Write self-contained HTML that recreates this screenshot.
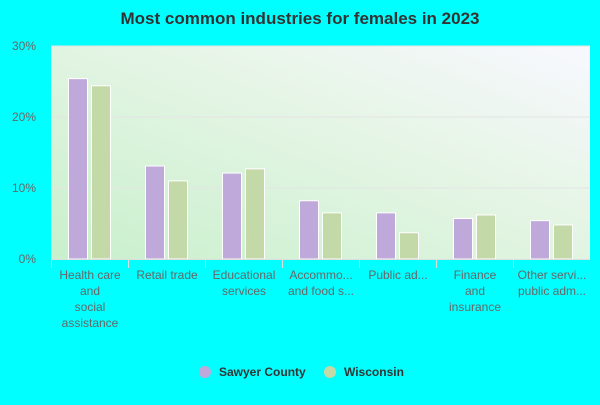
<!DOCTYPE html>
<html><head><meta charset="utf-8"><style>
body{margin:0;width:600px;height:400px;background:#00ffff;font-family:"Liberation Sans",sans-serif;overflow:hidden}
</style></head><body>
<svg width="600" height="400" xmlns="http://www.w3.org/2000/svg">
<defs>
<linearGradient id="bg" x1="0" y1="1" x2="1" y2="0">
<stop offset="0" stop-color="#c8f0cc"/><stop offset="0.6" stop-color="#e6f5e6"/><stop offset="1" stop-color="#f8f8ff"/>
</linearGradient>
</defs>
<text x="300" y="24" text-anchor="middle" font-size="17" font-weight="bold" fill="#333">Most common industries for females in 2023</text>
<rect x="51" y="46" width="539" height="213" fill="url(#bg)"/>
<g id="grid"></g><g id="bars"></g><g id="axis"></g>
<g>
<circle cx="205" cy="372" r="6" fill="#bfa8da"/>
<text x="219" y="376" font-size="12" font-weight="bold" fill="#333">Sawyer County</text>
<circle cx="330" cy="372" r="6" fill="#c4d9a8"/>
<text x="344" y="376" font-size="12" font-weight="bold" fill="#333">Wisconsin</text>
</g>
</svg>
<script>
const categories=[["Health care","and","social","assistance"],["Retail trade"],["Educational","services"],["Accommo...","and food s..."],["Public ad..."],["Finance","and","insurance"],["Other servi...","public adm..."]];
const sawyer=[25.4,13.1,12.1,8.2,6.5,5.7,5.4];
const wisconsin=[24.4,11.0,12.7,6.5,3.7,6.2,4.8];
const ticks=[0,10,20,30];
const NS="http://www.w3.org/2000/svg";
const x0=51,cw=77,yb=259,ppu=213/30;
const y=v=>yb-v*ppu;
function mk(t,a,p){const e=document.createElementNS(NS,t);for(const k in a)e.setAttribute(k,a[k]);p.appendChild(e);return e;}
const grid=document.getElementById('grid'),bars=document.getElementById('bars'),axis=document.getElementById('axis');
ticks.forEach(t=>{
 if(t>0){const l=mk('line',{x1:x0,x2:590,y1:y(t),y2:y(t),stroke:'#e4e4e4','stroke-width':1},grid);
 
 }
 const tx=mk('text',{x:36,y:y(t)+4,'text-anchor':'end','font-size':12,fill:'#666'},axis);tx.textContent=t+'%';
 
 
});
categories.forEach((c,i)=>{
 const cx=x0+i*cw;
 const b1=mk('rect',{x:cx+17.5,y:y(sawyer[i]),width:19,height:sawyer[i]*ppu,fill:'#bfa8da',stroke:'#fff','stroke-width':1},bars);
 
 
 const b2=mk('rect',{x:cx+40.5,y:y(wisconsin[i]),width:19,height:wisconsin[i]*ppu,fill:'#c4d9a8',stroke:'#fff','stroke-width':1},bars);
 
 
 const tk=mk('line',{x1:cx+0.5,x2:cx+0.5,y1:259,y2:268,stroke:'#ddd','stroke-width':1},axis);
 
 
 c.forEach((s,j)=>{const t=mk('text',{x:cx+cw/2+0.5,y:279+j*16,'text-anchor':'middle','font-size':12,fill:'#666'},axis);t.textContent=s;
 
 });
});
const bl=mk('line',{x1:x0,x2:590,y1:259.5,y2:259.5,stroke:'#ddd','stroke-width':1},axis);


</script>
</body></html>
